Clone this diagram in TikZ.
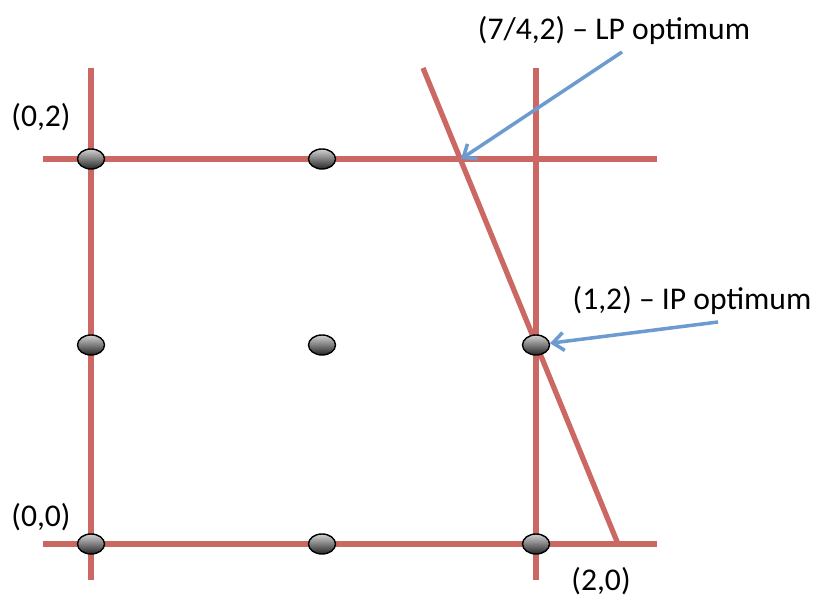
\documentclass[tikz,border=0pt]{standalone}
\usepackage{fontspec}
\setmainfont{Carlito}
\usepackage{xcolor}
\usepackage{tikz}
\usetikzlibrary{positioning, arrows.meta, shapes.geometric}

\definecolor{gridred}{RGB}{204,104,100}
\definecolor{pointerblue}{RGB}{108,155,207}

\begin{document}
\begin{tikzpicture}[
  gridline/.style={draw=gridred, line width=3pt},
  lattice/.style={ellipse, draw=black, line width=0.8pt, minimum width=0.54cm,
    minimum height=0.4cm, inner sep=0pt, top color=gray!35, bottom color=black!85},
  pointer/.style={draw=pointerblue, line width=2pt,
    -{Straight Barb[length=2.2mm, width=3.6mm]}},
  lbl/.style={font=\fontsize{18}{20}\selectfont, inner sep=0pt},
]
  \useasboundingbox (0,0) rectangle (16.34,11.98);
  % grid lines
  \draw[gridline] (1.82,10.62) -- (1.82,0.38);
  \draw[gridline] (10.72,10.62) -- (10.72,0.38);
  \draw[gridline] (0.86,8.8) -- (13.14,8.8);
  \draw[gridline] (0.86,1.1) -- (13.14,1.1);
  % constraint line
  \draw[gridline] (8.46,10.62) -- (12.36,1.1);
  % integer points
  \foreach \name/\x/\y in {p02/1.82/8.8, p12top/6.44/8.8,
                           p01/1.82/5.08, pmid/6.44/5.08, p12/10.72/5.08,
                           p00/1.82/1.1, p10/6.44/1.1, p20/10.72/1.1} {
    \node[lattice] (\name) at (\x,\y) {};
  }
  \coordinate (lpopt) at (9.22,8.8);
  \coordinate (lptail) at (12.44,10.94);
  \coordinate (iptail) at (14.36,5.54);
  % labels
  \node[lbl] (lplabel) at (12.28,11.38) {(7/4,2) -- LP optimum};
  \node[lbl] (iplabel) at (13.84,5.98) {(1,2) -- IP optimum};
  \node[lbl] (l02) at (0.82,9.64) {(0,2)};
  \node[lbl] (l00) at (0.82,1.64) {(0,0)};
  \node[lbl] (l20) at (12.02,0.36) {(2,0)};
  % pointers
  \draw[pointer] (lptail) -- (lpopt);
  \draw[pointer] (iptail) -- (p12);
\end{tikzpicture}
\end{document}
